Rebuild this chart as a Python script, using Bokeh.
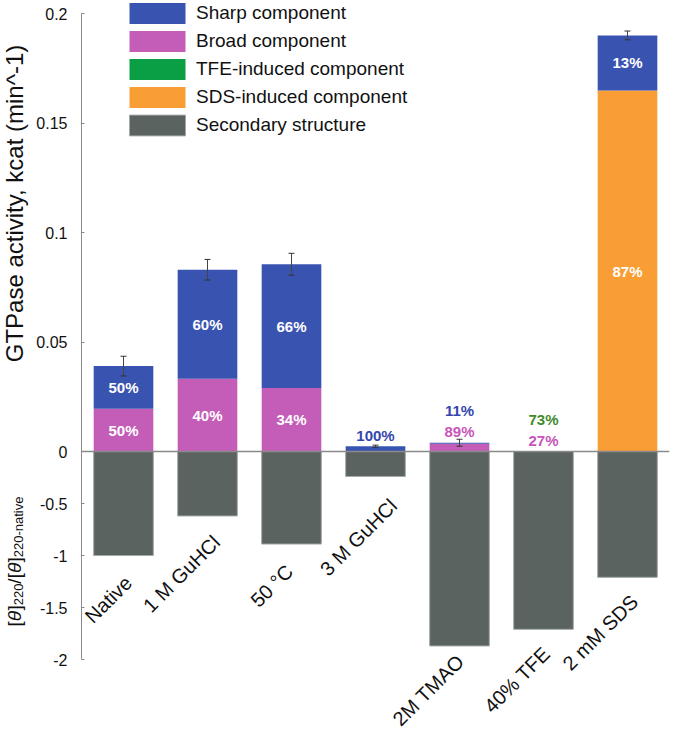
import math
from bokeh.plotting import figure
from bokeh.layouts import row
from bokeh.models import (ColumnDataSource, Range1d, LinearAxis, FixedTicker, Span,
                          Legend, LegendItem, Whisker, TeeHead)
from bokeh.core.properties import value
from bokeh.embed import file_html
from bokeh.resources import INLINE

# ---------------- data ----------------
categories = ["Native", "1 M GuHCl", "50 °C", "3 M GuHCl", "2M TMAO", "40% TFE", "2 mM SDS"]
sharp = [0.0195, 0.0498, 0.0565, 0.0024, 0.00044, 0.0, 0.0252]
broad = [0.0195, 0.0332, 0.0290, 0.0, 0.00356, 0.0, 0.0]
tfe_induced = [0.0, 0.0, 0.0, 0.0, 0.0, 0.0, 0.0]
sds_induced = [0.0, 0.0, 0.0, 0.0, 0.0, 0.0, 0.1648]
errors = [0.0045, 0.0047, 0.0050, 0.0005, 0.0016, 0.0, 0.0020]
secondary = [-1.00, -0.62, -0.89, -0.24, -1.87, -1.71, -1.21]
sharp_pct = ["50%", "60%", "66%", "100%", "11%", "", "13%"]
broad_pct = ["50%", "40%", "34%", "", "89%", "27%", ""]
tfe_pct = ["", "", "", "", "", "73%", ""]
sds_pct = ["", "", "", "", "", "", "87%"]
pos_ticks = [0, 0.05, 0.1, 0.15, 0.2]
pos_tick_labels = ["0", "0.05", "0.1", "0.15", "0.2"]
neg_ticks = [-0.5, -1.0, -1.5, -2.0]
neg_tick_labels = ["-0.5", "-1", "-1.5", "-2"]
legend_labels = ["Sharp component", "Broad component", "TFE-induced component",
                 "SDS-induced component", "Secondary structure"]
y_title_top = "GTPase activity, kcat (min^-1)"

# ---------------- layout / style ----------------
FONT = "Liberation Sans"
W_TOTAL, H = 673, 736
W_LAB = 30                    # narrow figure holding the rotated y titles
W = W_TOTAL - W_LAB
BORDER_LEFT = 51              # so the main frame starts at page x = 81
BORDER_RIGHT = 4
FRAME_W = W - BORDER_LEFT - BORDER_RIGHT
FRAME_H = H
ZERO_FROM_TOP = 451          # px from frame top to the zero line
PX_POS = 2190.0              # px per activity unit
PX_NEG = 104.0               # px per ratio unit
CAT_PX = 84.0                # px per category
BAR_W = 0.71
TITLE_X = 14                 # baseline x of the rotated titles in the narrow figure
SUB_SHIFT = 4

C_SHARP = "#3953B1"
C_BROAD = "#C45DB7"
C_TFE = "#0A9E45"
C_SDS = "#F99D35"
C_SEC = "#5B6360"
OUT_COLORS = {"sharp": "#3446AE", "broad": "#C656B9", "tfe": "#3F8B2C", "sds": "#E8902E"}

LABEL_DX = [5, 9, -2, 18, 1, 3, 7]
LABEL_DY = [24, 23, 24, 26, 12, 21, 21]

x_range = Range1d(-0.5, -0.5 + FRAME_W / CAT_PX)
y_range = Range1d(-(FRAME_H - ZERO_FROM_TOP) / PX_POS, ZERO_FROM_TOP / PX_POS)
neg_range = Range1d(-(FRAME_H - ZERO_FROM_TOP) / PX_NEG, ZERO_FROM_TOP / PX_NEG)

p = figure(width=W, height=H, x_range=x_range, y_range=y_range,
           output_backend="svg", toolbar_location=None,
           x_axis_location=None, y_axis_location=None,
           min_border_left=BORDER_LEFT, min_border_right=BORDER_RIGHT,
           min_border_top=0, min_border_bottom=0,
           outline_line_color=None, background_fill_color="white")
p.extra_y_ranges = {"neg": neg_range}
p.xgrid.grid_line_color = None
p.ygrid.grid_line_color = None

# y axis (one axis carrying both scales)
ratio = PX_NEG / PX_POS
tick_pos = list(pos_ticks) + [v * ratio for v in neg_ticks]
overrides = {}
for v, t in zip(pos_ticks, pos_tick_labels):
    overrides[v] = t
for v, t in zip(neg_ticks, neg_tick_labels):
    overrides[v * ratio] = t
axis = LinearAxis(ticker=FixedTicker(ticks=tick_pos), major_label_overrides=overrides,
                  bounds=(neg_ticks[-1] * ratio, pos_ticks[-1]))
axis.axis_line_color = "#8a8a8a"
axis.axis_line_width = 1
axis.major_tick_line_color = "#8a8a8a"
axis.major_tick_in = 3
axis.major_tick_out = 0
axis.minor_tick_line_color = None
axis.major_label_standoff = 14
axis.major_label_text_font_size = "16px"
axis.major_label_text_font = FONT
axis.major_label_text_color = "#111111"
p.add_layout(axis, "left")

# bars
src = ColumnDataSource(dict(x=list(range(len(categories))), broad=broad, tfe=tfe_induced,
                            sds=sds_induced, sharp=sharp, secondary=secondary,
                            cat=categories, dx=LABEL_DX, dy=LABEL_DY))
stack = p.vbar_stack(["broad", "tfe", "sds", "sharp"], x="x", width=BAR_W,
                     color=[C_BROAD, C_TFE, C_SDS, C_SHARP], line_color=None, source=src)
sec = p.vbar(x="x", top="secondary", bottom=0, width=BAR_W, fill_color=C_SEC,
             line_color="#a3aaa6", line_width=1, y_range_name="neg", source=src)

# zero line
p.add_layout(Span(location=0, dimension="width", line_color="#8a8a8a", line_width=1.5))

# error bars
totals = [a + b + c + d for a, b, c, d in zip(broad, tfe_induced, sds_induced, sharp)]
ex, eu, el = [], [], []
for i, (t, e) in enumerate(zip(totals, errors)):
    if e > 0:
        ex.append(i); eu.append(t + e); el.append(t - e)
esrc = ColumnDataSource(dict(x=ex, upper=eu, lower=el))
wh = Whisker(base="x", upper="upper", lower="lower", source=esrc, dimension="height",
             line_color="#444444", line_width=1,
             upper_head=TeeHead(size=6, line_color="#333333", line_width=1),
             lower_head=TeeHead(size=6, line_color="#333333", line_width=1))
wh.level = "overlay"
p.add_layout(wh)

# percentage labels
segs = [(broad, broad_pct, "broad"), (tfe_induced, tfe_pct, "tfe"),
        (sds_induced, sds_pct, "sds"), (sharp, sharp_pct, "sharp")]
lx, ly, lt, lc, lo = [], [], [], [], []
for i in range(len(categories)):
    cum = 0.0
    k = 0
    for vals, pcts, name in segs:
        v = vals[i]
        t = pcts[i]
        if t:
            if v * PX_POS >= 18:
                lx.append(i); ly.append(cum + v / 2); lt.append(t); lc.append("white"); lo.append(0)
            else:
                lx.append(i); ly.append(totals[i]); lt.append(t); lc.append(OUT_COLORS[name])
                lo.append(-(11 + 21 * k))
                k += 1
        cum += v
psrc = ColumnDataSource(dict(x=lx, y=ly, text=lt, color=lc, off=lo))
p.text(x="x", y="y", text="text", text_color="color", y_offset="off", source=psrc,
       text_align="center", text_baseline="middle", text_font=value(FONT),
       text_font_style="bold", text_font_size="15px")

# category labels (rotated, below each secondary-structure bar)
p.text(x="x", y="secondary", text="cat", x_offset="dx", y_offset="dy", angle=math.pi / 4,
       text_align="right", text_baseline="middle", text_font=value(FONT),
       text_font_size="20px", text_color="#111111", y_range_name="neg", source=src)

# legend
items = [LegendItem(label=legend_labels[0], renderers=[stack[3]]),
         LegendItem(label=legend_labels[1], renderers=[stack[0]]),
         LegendItem(label=legend_labels[2], renderers=[stack[1]]),
         LegendItem(label=legend_labels[3], renderers=[stack[2]]),
         LegendItem(label=legend_labels[4], renderers=[sec])]
legend = Legend(items=items, location=(41, FRAME_H - 138), glyph_width=70, glyph_height=26,
                spacing=2, padding=0, margin=0, label_standoff=4,
                label_text_font_size="19px", label_text_font=FONT, label_text_color="#111111",
                border_line_color=None, background_fill_alpha=0)
p.add_layout(legend)

# ---------------- narrow figure with the rotated y titles ----------------
lab = figure(width=W_LAB, height=H, x_range=Range1d(0, W_LAB), y_range=y_range,
             output_backend="svg", toolbar_location=None,
             x_axis_location=None, y_axis_location=None,
             min_border_left=0, min_border_right=0, min_border_top=0, min_border_bottom=0,
             outline_line_color=None, background_fill_color="white")
lab.extra_y_ranges = {"neg": neg_range}
lab.xgrid.grid_line_color = None
lab.ygrid.grid_line_color = None

lab.text(x=[TITLE_X], y=[(ZERO_FROM_TOP - 203) / PX_POS], text=[y_title_top], angle=math.pi / 2,
         text_align="center", text_baseline="alphabetic", text_font=value(FONT),
         text_font_size="24px", text_color="#111111")

widths = {"[": 0.278, "]": 0.278, "/": 0.278, "-": 0.333, "θ": 0.556, "n": 0.556, "a": 0.556,
          "t": 0.278, "i": 0.222, "v": 0.5, "e": 0.556, "2": 0.556, "0": 0.556}
pieces = [("[", 19, "normal", False), ("θ", 19, "italic", False), ("]", 19, "normal", False),
          ("220", 13, "normal", True), ("/", 19, "normal", False), ("[", 19, "normal", False),
          ("θ", 19, "italic", False), ("]", 19, "normal", False),
          ("220-native", 13, "normal", True)]
total_len = sum(sum(widths.get(c, 0.556) for c in s) * sz for s, sz, _, _ in pieces)
cur = (561 - ZERO_FROM_TOP) + total_len / 2     # start of the rotated text, px below zero
for s, sz, style, sub in pieces:
    lab.text(x=[TITLE_X + (SUB_SHIFT if sub else 0)], y=[-cur / PX_NEG], text=[s],
             angle=math.pi / 2, y_range_name="neg", text_align="left",
             text_baseline="alphabetic", text_font=value(FONT), text_font_size=f"{sz}px",
             text_font_style=style, text_color="#111111")
    cur -= sum(widths.get(c, 0.556) for c in s) * sz

layout = row(lab, p)
open("out.html", "w").write(file_html(layout, INLINE))
